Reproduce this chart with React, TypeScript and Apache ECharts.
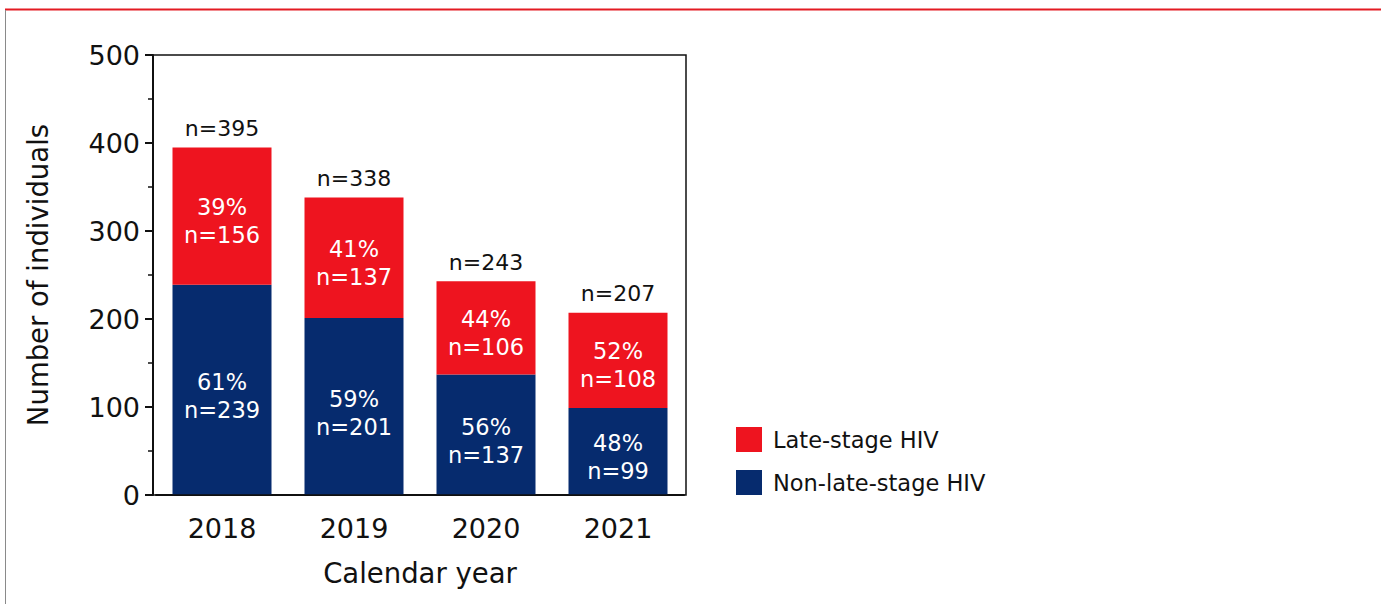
import React, { useEffect, useRef } from "react";
import * as echarts from "echarts";

const categories = ["2018", "2019", "2020", "2021"];
const nonLate = [239, 201, 137, 99];
const late = [156, 137, 106, 108];
const totals = [395, 338, 243, 207];
const nonLatePct = ["61%", "59%", "56%", "48%"];
const latePct = ["39%", "41%", "44%", "52%"];
const yTicks = [0, 100, 200, 300, 400, 500];

const RED = "#EE141F";
const NAVY = "#062B6E";
const FONT = "DejaVu Sans";
const INK = "#111";

export default function App() {
  const ref = useRef<HTMLDivElement>(null);
  useEffect(() => {
    if (!ref.current) return;
    const chart = echarts.init(ref.current, null, { renderer: "svg" });
    chart.setOption({
      animation: false,
      backgroundColor: "#fff",
      textStyle: { fontFamily: FONT },
      graphic: [
        { type: "line", shape: { x1: 5, y1: 9.5, x2: 1381, y2: 9.5 }, style: { stroke: "#E31B23", lineWidth: 2 } },
        { type: "line", shape: { x1: 5.5, y1: 10, x2: 5.5, y2: 604 }, style: { stroke: "#8a8a8a", lineWidth: 1 } },
        { type: "rect", shape: { x: 153, y: 55, width: 533, height: 440 }, style: { fill: "none", stroke: INK, lineWidth: 1.5 }, z: 10 },
      ],
      grid: { left: 156, top: 55, width: 528, height: 440 },
      legend: {
        data: ["Late-stage HIV", "Non-late-stage HIV"],
        orient: "vertical",
        left: 736,
        top: 427,
        padding: 0,
        itemWidth: 26,
        itemHeight: 25,
        itemGap: 18,
        icon: "rect",
        textStyle: { fontSize: 22.5, color: INK, fontFamily: FONT, padding: [0, 0, 0, 6] },
      },
      xAxis: {
        type: "category",
        data: categories,
        axisLine: { lineStyle: { color: INK, width: 2 } },
        axisTick: { alignWithLabel: true, length: 8, lineStyle: { color: INK, width: 2 } },
        axisLabel: { fontSize: 27, color: INK, margin: 20, fontFamily: FONT },
        name: "Calendar year",
        nameLocation: "middle",
        nameGap: 64,
        nameTextStyle: { fontSize: 27.5, color: INK, fontFamily: FONT },
      },
      yAxis: {
        type: "value",
        min: 0,
        max: 500,
        interval: 100,
        offset: 3,
        splitLine: { show: false },
        axisLine: { show: true, lineStyle: { color: INK, width: 2 } },
        axisTick: { show: true, length: 8, lineStyle: { color: INK, width: 2 } },
        minorTick: { show: true, splitNumber: 2, length: 5, lineStyle: { color: INK, width: 1.5 } },
        axisLabel: {
          fontSize: 27, color: INK, margin: 13, fontFamily: FONT,
          formatter: (v: number) => (yTicks.includes(v) ? String(v) : ""),
        },
        name: "Number of individuals",
        nameLocation: "middle",
        nameGap: 101,
        nameTextStyle: { fontSize: 27.5, color: INK, fontFamily: FONT },
      },
      series: [
        {
          name: "Non-late-stage HIV",
          type: "bar",
          stack: "total",
          barWidth: 99,
          itemStyle: { color: NAVY },
          data: nonLate,
          label: {
            show: true,
            position: "inside",
            offset: [0, 6],
            color: "#fff",
            fontSize: 22.5,
            lineHeight: 28,
            fontFamily: FONT,
            formatter: (p: any) => `${nonLatePct[p.dataIndex]}\nn=${nonLate[p.dataIndex]}`,
          },
        },
        {
          name: "Late-stage HIV",
          type: "bar",
          stack: "total",
          barWidth: 99,
          itemStyle: { color: RED },
          data: late,
          label: {
            show: true,
            position: "inside",
            offset: [0, 5],
            color: "#fff",
            fontSize: 22.5,
            lineHeight: 28,
            fontFamily: FONT,
            formatter: (p: any) => `${latePct[p.dataIndex]}\nn=${late[p.dataIndex]}`,
          },
        },
        {
          name: "total",
          type: "scatter",
          symbolSize: 0,
          data: totals,
          silent: true,
          itemStyle: { opacity: 1 },
          label: {
            show: true,
            position: "top",
            distance: 8,
            color: INK,
            fontSize: 22,
            fontFamily: FONT,
            formatter: (p: any) => `n=${totals[p.dataIndex]}`,
          },
        },
      ],
    });
    return () => chart.dispose();
  }, []);
  return <div ref={ref} style={{ position: "fixed", left: 0, top: 0, width: 1387, height: 604 }} />;
}
